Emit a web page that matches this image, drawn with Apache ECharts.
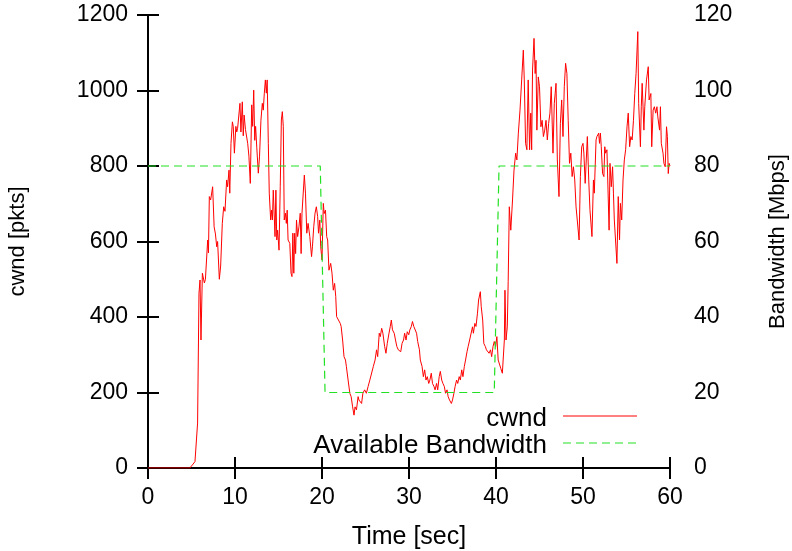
<!DOCTYPE html>
<html>
<head>
<meta charset="utf-8">
<script src="https://cdn.jsdelivr.net/npm/echarts@6/dist/echarts.min.js"></script>
<style>
html,body{margin:0;padding:0;background:#fff;}
#chart{width:792px;height:551px;}
</style>
</head>
<body>
<div id="chart"></div>
<script>
// ---- data ----
const cwndTime = [0, 4.8, 5.1, 5.4, 5.7, 5.86, 5.98, 6.09, 6.25, 6.48, 6.6, 6.86, 6.95, 7.05, 7.2, 7.43, 7.6, 7.75, 7.9, 8.0, 8.2, 8.35, 8.54, 8.7, 8.85, 9.04, 9.15, 9.31, 9.4, 9.54, 9.7, 9.8, 9.93, 10.1, 10.2, 10.3, 10.4, 10.57, 10.68, 10.84, 10.95, 11.05, 11.2, 11.46, 11.6, 11.76, 11.92, 12.03, 12.15, 12.27, 12.37, 12.5, 12.68, 12.82, 12.98, 13.14, 13.25, 13.37, 13.49, 13.6, 13.7, 13.83, 13.94, 14.1, 14.2, 14.3, 14.4, 14.6, 14.7, 14.8, 14.9, 15.06, 15.2, 15.33, 15.44, 15.55, 15.66, 15.8, 15.9, 16.0, 16.1, 16.3, 16.44, 16.55, 16.65, 16.76, 16.86, 16.97, 17.07, 17.2, 17.35, 17.5, 17.6, 17.7, 17.97, 18.1, 18.25, 18.4, 18.6, 18.8, 18.9, 19.05, 19.2, 19.35, 19.5, 19.6, 19.75, 19.85, 20.0,
  20.15, 20.25, 20.4, 20.54, 20.65, 20.8, 21.0, 21.15, 21.3, 21.45, 21.58, 21.68, 21.9, 22.1, 22.2, 22.37, 22.53, 22.7, 22.8, 23.0, 23.2, 23.35, 23.52, 23.68, 23.8, 23.96, 24.15, 24.25, 24.4, 24.55, 24.7, 24.9, 25.1, 25.3, 25.5, 25.7, 25.9, 26.1, 26.27, 26.4, 26.58, 26.7, 26.86, 27.0, 27.2, 27.35, 27.5, 27.7, 27.85, 27.97, 28.1, 28.3, 28.45, 28.6, 28.77, 28.9, 29.05, 29.2, 29.37, 29.5, 29.66, 29.8, 29.97, 30.1, 30.27, 30.4, 30.55, 30.7, 30.87, 31.0, 31.2, 31.3, 31.5, 31.65, 31.8, 31.95, 32.1, 32.27, 32.4, 32.56, 32.7, 32.87, 33.0, 33.17, 33.3, 33.47, 33.6, 33.76, 33.9, 34.06, 34.2, 34.37, 34.5, 34.66, 34.87, 35.0, 35.16, 35.3, 35.47, 35.6, 35.77, 35.9, 36.06, 36.2, 36.36, 36.5, 36.67, 36.8, 36.97, 37.1, 37.3, 37.4, 37.57, 37.7, 37.87, 38.0, 38.2, 38.3, 38.47, 38.6, 38.77, 38.9, 39.06, 39.2, 39.37, 39.5, 39.66, 39.8, 39.96, 40.1, 40.25, 40.4, 40.55, 40.73, 40.96, 41.03, 41.15, 41.3, 41.4, 41.53, 41.7, 41.9,
  42.07, 42.26, 42.4, 42.57, 42.76, 42.95, 43.14, 43.25, 43.4, 43.55, 43.7, 43.86, 44.0, 44.1, 44.2, 44.37, 44.5, 44.6, 44.7, 44.86, 45.0, 45.16, 45.3, 45.45, 45.6, 45.75, 45.9, 46.05, 46.2, 46.35, 46.55, 46.7, 46.8, 46.9, 47.05, 47.24, 47.4, 47.55, 47.7, 47.85, 48.0, 48.15, 48.3, 48.45, 48.6, 48.75, 48.9, 49.05, 49.2, 49.35, 49.55, 49.7, 49.85, 50.0, 50.1, 50.25, 50.5, 50.66, 50.8, 51.03, 51.2, 51.3, 51.5, 51.6, 51.8, 51.9, 52.0, 52.1, 52.25, 52.4, 52.5, 52.6, 52.75, 53.0, 53.1, 53.25, 53.4, 53.5, 53.6, 53.9, 54.05, 54.2, 54.3, 54.45, 54.6, 54.75, 54.9, 55.06, 55.2, 55.36, 55.5, 55.65, 55.8, 55.95, 56.1, 56.3, 56.4, 56.6, 56.7, 56.8, 57.0, 57.1, 57.3, 57.5, 57.6, 57.8, 57.9, 58.06, 58.2, 58.36, 58.5, 58.6, 58.8, 58.9, 59.0, 59.2, 59.3, 59.45, 59.6, 59.7, 59.8, 59.9, 60.0];
const cwndValue = [0, 0, 8, 17, 119, 463, 498, 339, 516, 490, 500, 604, 570, 719, 710, 745, 639, 620, 586, 600, 500, 535, 648, 692, 680, 763, 745, 789, 728, 860, 917, 905, 834, 905, 890, 900, 905, 966, 890, 970, 880, 935, 897, 860, 826, 754, 962, 905, 1001, 868, 905, 850, 781, 826, 921, 966, 948, 993, 1028, 993, 1028, 860, 728, 657, 683, 657, 736, 613, 736, 604, 630, 577, 745, 922, 944, 905, 657, 675, 648, 683, 604, 595, 516, 507, 622, 516, 622, 568, 657, 613, 639, 675, 568, 675, 776, 728, 622, 648, 613, 560, 586, 639, 675, 692, 666, 622, 657, 586, 551,
  701, 674, 683, 613, 604, 524, 542, 516, 471, 489, 454, 401, 397, 383, 375, 339, 295, 286, 269, 233, 198, 189, 162, 140, 162, 154, 189, 180, 176, 171, 198, 207, 198, 216, 233, 233, 269, 286, 313, 295, 357, 348, 370, 357, 322, 304, 330, 357, 375, 392, 366, 357, 339, 322, 313, 317, 308, 330, 339, 357, 339, 361, 353, 366, 375, 388, 375, 379, 357, 335, 313, 286, 269, 242, 260, 233, 242, 224, 233, 251, 224, 216, 207, 224, 207, 242, 256, 233, 224, 216, 198, 207, 189, 180, 171, 180, 198, 216, 233, 224, 242, 233, 260, 242, 269, 286, 308, 322, 339, 339, 374, 357, 383, 375, 410, 445, 467, 428, 392, 330, 322, 313, 317, 304, 313, 295, 322, 335, 322, 348, 286, 282, 264, 251, 339, 471, 339, 374, 494, 692, 630, 710,
  789, 834, 816, 887, 948, 1028, 1107, 1028, 860, 843, 1028, 843, 940, 843, 1054, 1138, 1045, 1080, 895, 1036, 1010, 904, 921, 878, 895, 921, 869, 913, 940, 1010, 834, 966, 992, 1019, 816, 719, 913, 975, 878, 1010, 1072, 1045, 921, 807, 834, 772, 798, 763, 692, 692, 604, 772, 851, 860, 834, 754, 878, 763, 684, 613, 763, 728, 869, 878, 887, 860, 887, 851, 780, 772, 851, 834, 843, 630, 807, 745, 798, 728, 657, 542, 719, 604, 701, 657, 763, 816, 843, 904, 940, 851, 878, 869, 921, 992, 1045, 1156, 966, 851, 957, 1019, 895, 957, 1028, 1063, 975, 992, 851, 948, 957, 940, 957, 930, 895, 957, 860, 834, 807, 798, 904, 878, 780, 807, 800];
const bwTime = [0, 19.8, 20.35, 39.8, 40.35, 60];
const bwValue = [80, 80, 20, 20, 80, 80];
const xTicks = {min: 0, max: 60, interval: 10};
const cwndTicks = {min: 0, max: 1200, interval: 200};
const bwTicks = {min: 0, max: 120, interval: 20};
const seriesNames = ['cwnd', 'Available Bandwidth'];

const cwndData = cwndTime.map((t, i) => [t, cwndValue[i]]);
const bwData = bwTime.map((t, i) => [t, bwValue[i]]);

const FONT = 'Liberation Sans, Arial, Helvetica, sans-serif';
const TICK_FS = 23;
const H_FS = 25;
const LEG_FS = 26;
const V_FS = 22;
const RED = '#ff0000';
const GREEN = '#22e022';
const DASH = [8, 5];
const axisLine = {show: true, lineStyle: {color: '#000', width: 2}};
const axisTick = {show: true, inside: true, length: 11, lineStyle: {color: '#000', width: 2}};
const plain = v => String(v);

const chart = echarts.init(document.getElementById('chart'), null, {renderer: 'canvas'});
chart.setOption({
  animation: false,
  backgroundColor: '#fff',
  textStyle: {fontFamily: FONT},
  grid: {left: 148, right: 122, top: 15, bottom: 83, containLabel: false, outerBoundsMode: 'none'},
  xAxis: [{
    type: 'value', position: 'bottom', min: xTicks.min, max: xTicks.max, interval: xTicks.interval,
    name: 'Time [sec]', nameLocation: 'middle', nameGap: 57,
    nameTextStyle: {fontSize: H_FS, color: '#000', fontFamily: FONT},
    axisLine: axisLine, axisTick: axisTick, splitLine: {show: false},
    axisLabel: {fontSize: TICK_FS, color: '#000', margin: 18, fontFamily: FONT, formatter: plain}
  }, {
    type: 'value', position: 'top', min: xTicks.min, max: xTicks.max, interval: xTicks.interval,
    axisLine: axisLine, axisTick: axisTick, splitLine: {show: false},
    axisLabel: {show: false}
  }],
  yAxis: [{
    type: 'value', position: 'left', min: cwndTicks.min, max: cwndTicks.max, interval: cwndTicks.interval,
    name: 'cwnd [pkts]', nameLocation: 'middle', nameGap: 119, nameRotate: 90,
    nameTextStyle: {fontSize: V_FS, color: '#000', fontFamily: FONT},
    axisLine: axisLine, axisTick: axisTick, splitLine: {show: false},
    axisLabel: {fontSize: TICK_FS, color: '#000', margin: 20, fontFamily: FONT, formatter: plain}
  }, {
    type: 'value', position: 'right', min: bwTicks.min, max: bwTicks.max, interval: bwTicks.interval,
    name: 'Bandwidth [Mbps]', nameLocation: 'middle', nameGap: 97, nameRotate: 90,
    nameTextStyle: {fontSize: V_FS, color: '#000', fontFamily: FONT},
    axisLine: axisLine, axisTick: axisTick, splitLine: {show: false},
    axisLabel: {fontSize: TICK_FS, color: '#000', margin: 24, fontFamily: FONT, formatter: plain}
  }],
  series: [{
    name: seriesNames[0], type: 'line', xAxisIndex: 0, yAxisIndex: 0, data: cwndData,
    showSymbol: false, symbol: 'none', color: RED,
    lineStyle: {color: RED, width: 1}, z: 2
  }, {
    name: seriesNames[1], type: 'line', xAxisIndex: 0, yAxisIndex: 1, data: bwData,
    showSymbol: false, symbol: 'none', color: GREEN,
    lineStyle: {color: GREEN, width: 1.2, type: DASH}, z: 3
  }],
  graphic: [
    {type: 'text', right: 792 - 547, top: 406, style: {text: seriesNames[0], fontSize: LEG_FS, fontFamily: FONT, fill: '#000'}},
    {type: 'line', shape: {x1: 563, y1: 416, x2: 637, y2: 416}, style: {stroke: RED, lineWidth: 1}},
    {type: 'text', right: 792 - 547, top: 433, style: {text: seriesNames[1], fontSize: LEG_FS, fontFamily: FONT, fill: '#000'}},
    {type: 'line', shape: {x1: 563, y1: 443, x2: 637, y2: 443}, style: {stroke: GREEN, lineWidth: 1.2, lineDash: DASH}}
  ]
});
</script>
</body>
</html>
